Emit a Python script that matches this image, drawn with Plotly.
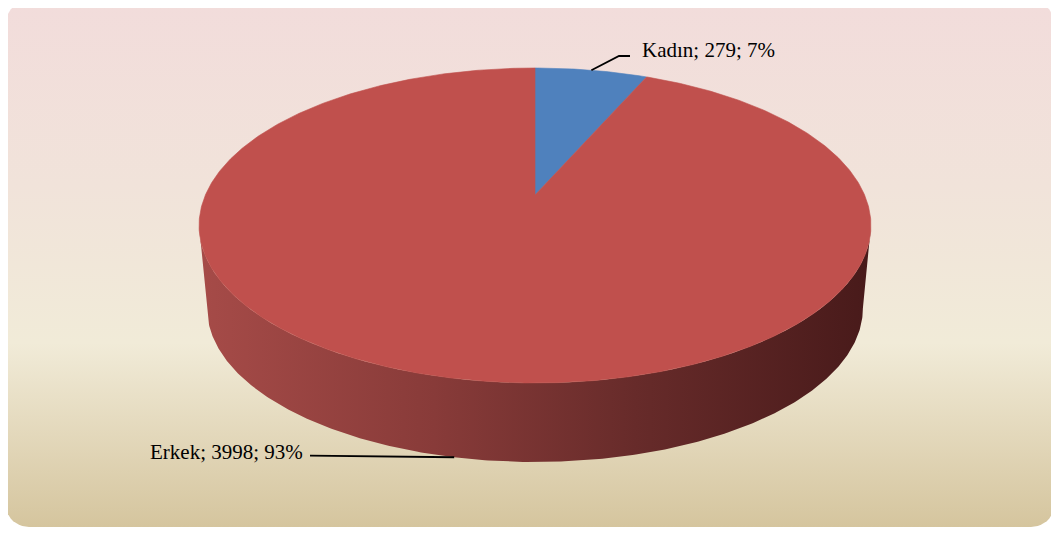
import numpy as np
import plotly.graph_objects as go

# ---- data ----
labels = ["Kadın", "Erkek"]
values = [279, 3998]
slice_colors = ["#4F81BD", "#C0504D"]

# ---- geometry / style (pixel space) ----
W, H = 1059, 533
OFF = 8                     # page body margin offset
CX, CY0 = 535.0, 195.0      # projected pie centre
R, S, K = 329.6, 151.6, 0.1936   # radius x, radius y, perspective factor
SB, DOFF = 0.976, 83.5      # bottom ring scale and offset
BG = dict(x0=5, x1=1055, y0=1, y1=527, r=24)
FONT = dict(family="Liberation Serif, Times New Roman, serif", size=21, color="black")
LABEL_POS = {"Kadın": (640, 50, "left"), "Erkek": (305, 452, "right")}
ELBOW = {"Kadın": [(619, 56), (630, 56)], "Erkek": [(310, 455.7)]}
WALL_SCALE = [[0.0, "#A64B48"], [0.35, "#883B39"], [0.65, "#672B2A"], [1.0, "#481A1A"]]


def top_pt(deg):
    t = np.radians(deg)
    u, v = np.sin(t), np.cos(t)
    d = 1 + K * v
    return CX + R * u / d, CY0 - S * v / d


def bot_pt(deg):
    t = np.radians(deg)
    u, v = np.sin(t), np.cos(t)
    d = 1 + K * v
    return CX + SB * R * u / d, CY0 + DOFF - SB * S * v / d


def arc(fn, a0, a1, step=0.5):
    n = max(2, int(abs(a1 - a0) / step) + 1)
    ang = np.linspace(a0, a1, n)
    pts = [fn(a) for a in ang]
    return [p[0] for p in pts], [p[1] for p in pts]


fig = go.Figure()

# background rounded rectangle with vertical gradient
x0, x1, y0, y1, r = BG["x0"], BG["x1"], BG["y0"], BG["y1"], BG["r"]
bx, by = [], []
for (ccx, ccy, a0, a1) in [(x1 - r, y0 + r, -90, 0), (x1 - r, y1 - r, 0, 90),
                           (x0 + r, y1 - r, 90, 180), (x0 + r, y0 + r, 180, 270)]:
    for a in np.linspace(a0, a1, 12):
        bx.append(ccx + r * np.cos(np.radians(a)))
        by.append(ccy + r * np.sin(np.radians(a)))
bx.append(bx[0]); by.append(by[0])
fig.add_trace(go.Scatter(
    x=bx, y=by, mode="lines", fill="toself", line=dict(width=0),
    fillgradient=dict(type="vertical", start=y0, stop=y1,
                      colorscale=[[0, "#F2DCDB"], [0.35, "#F1E3DA"], [0.65, "#F1EBD8"], [1, "#D5C59E"]]),
    hoverinfo="skip", showlegend=False))

total = sum(values)
angles = np.cumsum([0] + [v / total * 360 for v in values])
theta_r = np.degrees(np.arccos(-K))
theta_l = 360 - theta_r
xmin_w = top_pt(theta_l)[0]
xmax_w = top_pt(theta_r)[0]

# side walls (front visible part)
for i, lab in enumerate(labels):
    a0, a1 = max(angles[i], theta_r), min(angles[i + 1], theta_l)
    if a1 <= a0:
        continue
    tx, ty = arc(top_pt, a0, a1)
    bxx, byy = arc(bot_pt, a0, a1)
    px = tx + bxx[::-1] + [tx[0]]
    py = ty + byy[::-1] + [ty[0]]
    fig.add_trace(go.Scatter(
        x=px, y=py, mode="lines", fill="toself", line=dict(width=0),
        fillgradient=dict(type="horizontal", start=xmin_w, stop=xmax_w, colorscale=WALL_SCALE),
        hoverinfo="skip", showlegend=False))

# top faces
for i, lab in enumerate(labels):
    ax, ay = arc(top_pt, angles[i], angles[i + 1])
    px = [CX] + ax + [CX]
    py = [CY0] + ay + [CY0]
    fig.add_trace(go.Scatter(
        x=px, y=py, mode="lines", fill="toself", fillcolor=slice_colors[i],
        line=dict(width=0.6, color=slice_colors[i]), hoverinfo="skip", showlegend=False))

# labels with leader lines
for i, lab in enumerate(labels):
    mid = (angles[i] + angles[i + 1]) / 2
    cos_mid = np.cos(np.radians(mid))
    sx, sy = top_pt(mid) if cos_mid > -K else bot_pt(mid)
    lx = [sx] + [p[0] for p in ELBOW[lab]]
    ly = [sy] + [p[1] for p in ELBOW[lab]]
    fig.add_trace(go.Scatter(x=lx, y=ly, mode="lines", line=dict(color="black", width=1.8),
                             hoverinfo="skip", showlegend=False))
    pct = round(values[i] / total * 100)
    tx, tyy, anc = LABEL_POS[lab]
    fig.add_annotation(x=tx, y=tyy, xref="x", yref="y", text=f"{lab}; {values[i]}; {pct}%",
                       showarrow=False, xanchor=anc, yanchor="middle", font=FONT)

fig.update_layout(
    width=W - OFF, height=H - OFF, margin=dict(l=0, r=0, t=0, b=0),
    paper_bgcolor="white", plot_bgcolor="rgba(0,0,0,0)",
    xaxis=dict(range=[OFF, W], visible=False, fixedrange=True),
    yaxis=dict(range=[H, OFF], visible=False, fixedrange=True),
    showlegend=False,
)
fig.write_html("out.html")
